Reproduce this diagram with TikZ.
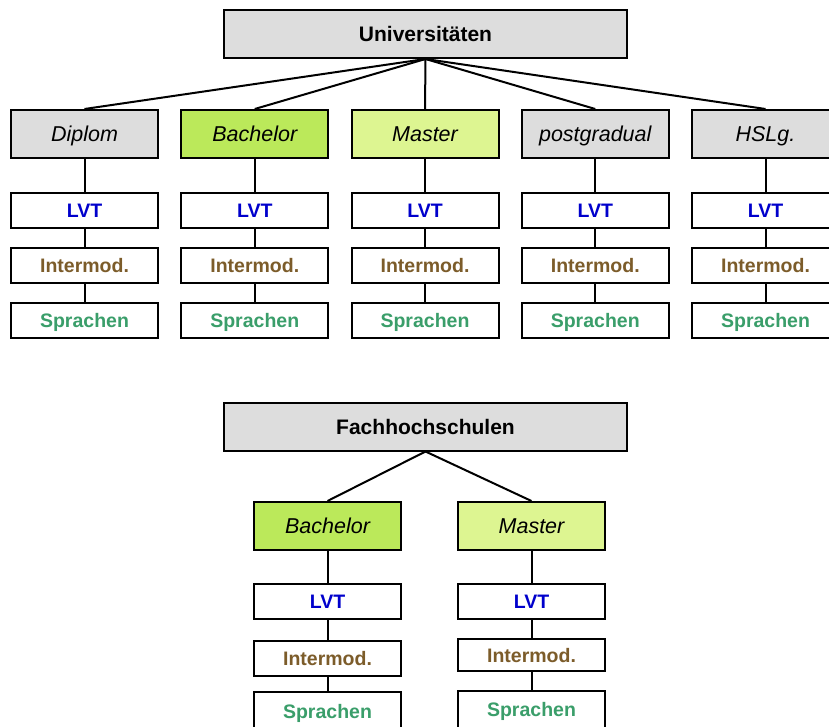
\documentclass[tikz,border=0pt]{standalone}
\usepackage{fontspec}
\setmainfont{Liberation Sans}
\definecolor{boxgray}{RGB}{221,221,221}
\definecolor{bachgreen}{RGB}{187,233,90}
\definecolor{mastgreen}{RGB}{221,245,145}
\definecolor{lvtblue}{RGB}{0,0,204}
\definecolor{interbrown}{RGB}{124,92,42}
\definecolor{sprgreen}{RGB}{58,158,106}
\tikzset{
  base/.style={draw=black, line width=2pt, inner sep=0pt, anchor=center, text depth=0pt},
  titlebox/.style={base, fill=boxgray, minimum width=403pt, minimum height=48pt,
    text height=15pt, font=\fontsize{21}{25}\selectfont\bfseries},
  levelbox/.style={base, minimum width=147pt, minimum height=48pt,
    text height=15.4pt, font=\fontsize{21.5}{25}\selectfont\itshape},
  subbox/.style={base, fill=white, minimum width=147pt, minimum height=35pt,
    text height=14pt, font=\fontsize{19.5}{23}\selectfont\bfseries},
  lvt/.style={subbox, text=lvtblue},
  inter/.style={subbox, text=interbrown},
  spr/.style={subbox, text=sprgreen},
  conn/.style={line width=2pt, black}
}
\begin{document}
\begin{tikzpicture}[x=1pt,y=-1pt]
\useasboundingbox (0,0) rectangle (829,727);
\clip (0,0) rectangle (829,727);
% Universitaeten
\node[titlebox] (U) at (425.5,34) {Universitäten};
\node[levelbox, fill=boxgray] (U1) at (84.5,134) {Diplom};
\node[levelbox, fill=bachgreen] (U2) at (254.75,134) {Bachelor};
\node[levelbox, fill=mastgreen] (U3) at (425,134) {Master};
\node[levelbox, fill=boxgray] (U4) at (595.25,134) {postgradual};
\node[levelbox, fill=boxgray] (U5) at (765.5,134) {HSLg.};
\foreach \i/\x in {1/84.5,2/254.75,3/425,4/595.25,5/765.5}{
  \node[lvt] (L\i) at (\x,210.5) {LVT};
  \node[inter] (I\i) at (\x,265.5) {Intermod.};
  \node[spr] (S\i) at (\x,320.5) {Sprachen};
  \draw[conn] (U.south) -- (U\i.north);
  \draw[conn] (U\i.south) -- (L\i.north);
  \draw[conn] (L\i.south) -- (I\i.north);
  \draw[conn] (I\i.south) -- (S\i.north);
}
% Fachhochschulen
\node[titlebox] (F) at (425.5,426.5) {Fachhochschulen};
\node[levelbox, fill=bachgreen] (FB) at (327.5,526) {Bachelor};
\node[levelbox, fill=mastgreen] (FM) at (531.5,526) {Master};
\node[lvt] (FBL) at (327.5,601) {LVT};
\node[inter] (FBI) at (327.5,658) {Intermod.};
\node[spr, minimum height=38pt] (FBS) at (327.5,711) {Sprachen};
\node[lvt] (FML) at (531.5,601) {LVT};
\node[inter, minimum height=32pt] (FMI) at (531.5,655) {Intermod.};
\node[spr, minimum height=37pt] (FMS) at (531.5,709.5) {Sprachen};
\draw[conn] (F.south) -- (FB.north);
\draw[conn] (F.south) -- (FM.north);
\draw[conn] (FB.south) -- (FBL.north);
\draw[conn] (FBL.south) -- (FBI.north);
\draw[conn] (FBI.south) -- (FBS.north);
\draw[conn] (FM.south) -- (FML.north);
\draw[conn] (FML.south) -- (FMI.north);
\draw[conn] (FMI.south) -- (FMS.north);
\end{tikzpicture}
\end{document}
